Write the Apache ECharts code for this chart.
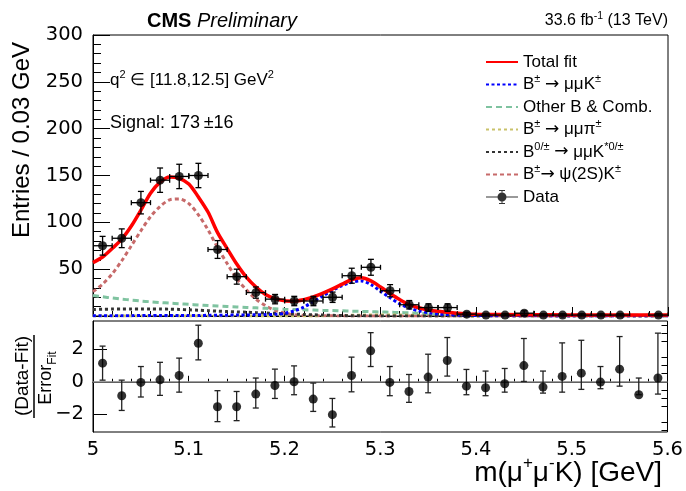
<!DOCTYPE html>
<html>
<head>
<meta charset="utf-8">
<script src="https://cdn.jsdelivr.net/npm/echarts@6/dist/echarts.min.js"></script>
<style>
html,body{margin:0;padding:0;background:#fff;}
#chart{width:686px;height:491px;}
</style>
</head>
<body>
<div id="chart"></div>
<script>
// ---------------- data ----------------
const massBins = [5.01,5.03,5.05,5.07,5.09,5.11,5.13,5.15,5.17,5.19,5.21,5.23,5.25,5.27,5.29,5.31,5.33,5.35,5.37,5.39,5.41,5.43,5.45,5.47,5.49,5.51,5.53,5.55,5.57,5.59];
const entries = [75,83,121,145,149,150,71,42,25,18,16,16,20,43,52,27,12,9,9,2,1,1,3,1,1,1,1,1,null,1];
const entriesErr = [10,10,12,13,13,13,9.5,8,6,5,5,5,5.5,8,8.5,6.5,4.5,4,4,2,1.3,1.3,2.5,1.3,1.3,1.3,1.3,1.3,null,1.3];

const pull = [1.15,-0.86,-0.04,0.12,0.39,2.38,-1.54,-1.54,-0.76,-0.23,0.0,-1.07,-2.03,0.39,1.91,-0.04,-0.6,0.29,1.31,-0.27,-0.37,-0.12,1.0,-0.33,0.33,0.53,-0.02,0.78,-0.8,0.23];
const pullErrUp = [1.05,0.96,0.98,1.08,1.07,1.11,0.99,0.94,0.99,1.01,0.98,0.99,1.0,1.13,1.12,0.98,1.05,1.41,1.42,1.03,1.03,0.94,1.67,0.99,2.07,2.03,0.96,2.01,1.03,2.77];
const pullErrDown = [1.05,0.91,0.9,0.96,1.03,1.03,0.92,0.86,0.86,0.8,0.8,0.76,0.76,1.01,0.97,0.82,0.67,0.97,0.96,0.53,0.49,0.52,0.98,0.37,0.97,1.0,0.41,1.05,0.0,0.99];

const fitMass = [5.00,5.01,5.02,5.03,5.04,5.05,5.06,5.07,5.08,5.09,5.10,5.11,5.12,5.13,5.14,5.15,5.16,5.17,5.18,5.19,5.20,5.21,5.22,5.23,5.24,5.25,5.26,5.27,5.28,5.29,5.30,5.31,5.32,5.33,5.34,5.35,5.36,5.37,5.38,5.39,5.40,5.45,5.50,5.55,5.60];
const totalFit = [57,63,72,82,96,113,131,143,148.5,147,141,127,111,89,72,55.5,41.5,31,23,18.5,16.2,15.8,17.5,20.5,24.5,29,34,39,40.8,37.5,31,24,17.5,12,8.8,6.5,5,4,3,2.3,1.8,1.3,1.2,1.2,1.2];
const sigKpm = [0.4,0.4,0.4,0.4,0.4,0.5,0.5,0.5,0.5,0.5,0.6,0.6,0.7,0.8,0.9,1.0,1.1,1.3,1.5,1.8,2.8,5.5,9.5,15.5,21.5,27.5,32.5,36,37.5,33.5,26.5,19.5,13,8.5,5.5,3.5,2.2,1.5,1.0,0.7,0.5,0.2,0.1,0.1,0.1];
const otherComb = [22,20.5,19.2,18,17,16,15.2,14.4,13.7,13,12.4,11.8,11.2,10.7,10.2,9.7,9.2,8.7,8.2,7.7,7.2,6.9,6.6,6.3,6.0,5.8,5.5,5.2,4.9,4.6,4.3,4.0,3.7,3.4,3.0,2.6,2.2,1.9,1.6,1.4,1.3,1.0,0.9,0.9,0.9];
const mumuPi = [0,0,0,0,0,0,0,0,0,0,0,0,0,0,0,0,0,0,0,0,0,0,0,0.1,0.2,0.3,0.5,0.7,0.9,1.0,1.1,1.1,1.0,0.9,0.7,0.5,0.4,0.3,0.2,0.1,0.1,0,0,0,0];
const kstar = [7,7.2,7.4,7.5,7.6,7.6,7.6,7.5,7.3,7,6.6,6.2,5.7,5.2,4.8,4.4,4,3.6,3.2,2.8,2.4,2,1.6,1.3,1,0.7,0.5,0.3,0.2,0.1,0,0,0,0,0,0,0,0,0,0,0,0,0,0,0];
const psi2S = [26,34,45,59,75,91,106,117,124,125,120,108,92,73,56,40,28,18,11,6,3,1.4,0.6,0.3,0.2,0.15,0.1,0.05,0,0,0,0,0,0,0,0,0,0,0,0,0,0,0,0,0];

const mainTicks = [0,50,100,150,200,250,300];
const pullTicks = [-2,0,2];
const pullMinorTicks = [-3,-2.5,-1.5,-1,-0.5,0.5,1,1.5,2.5,3,3.5];

const names = {
  total: 'Total fit',
  kpm: 'B± → μμK±',
  other: 'Other B & Comb.',
  pi: 'B± → μμπ±',
  kst: 'B0/± → μμK*0/±',
  psi: 'B±→ ψ(2S)K±',
  data: 'Data'
};
const legendRich = {};
legendRich[names.total] = 'Total fit';
legendRich[names.kpm] = 'B{s|±} {a|→} μμK{s|±}';
legendRich[names.other] = 'Other B & Comb.';
legendRich[names.pi] = 'B{s|±} {a|→} μμπ{s|±}';
legendRich[names.kst] = 'B{s|0/±} {a|→} μμK{s|*0/±}';
legendRich[names.psi] = 'B{s|±}{a|→} ψ(2S)K{s|±}';
legendRich[names.data] = 'Data';

// ---------------- build ----------------
const FONT = 'Liberation Sans';
const TICKFONT = 'DejaVu Sans';
const TICKSIZE = 19.5;
const zip = (xs, ys) => xs.map((x, i) => [x, ys[i]]);

const dataPts = [], dataErr = [];
massBins.forEach((m, i) => {
  if (entries[i] === null) return;
  dataPts.push([m, entries[i]]);
  dataErr.push([m, entries[i], entriesErr[i], entriesErr[i]]);
});
const pullPts = massBins.map((m, i) => [m, pull[i]]);
const pullErr = massBins.map((m, i) => [m, pull[i], pullErrDown[i], pullErrUp[i]]);

const BIN_HALF = 0.01;
function makeErrRender(halfBin, capHalf, color) {
  return function (params, api) {
    const x = api.value(0), y = api.value(1), lo = api.value(2), hi = api.value(3);
    const c = api.coord([x, y]);
    const top = api.coord([x, y + hi])[1];
    const bot = api.coord([x, y - lo])[1];
    const st = {stroke: color, lineWidth: 1.3};
    const ch = [
      {type: 'line', shape: {x1: c[0], y1: top, x2: c[0], y2: bot}, style: st},
      {type: 'line', shape: {x1: c[0] - capHalf, y1: top, x2: c[0] + capHalf, y2: top}, style: st},
      {type: 'line', shape: {x1: c[0] - capHalf, y1: bot, x2: c[0] + capHalf, y2: bot}, style: st}
    ];
    if (halfBin > 0) {
      const l = api.coord([x - halfBin, y])[0], r = api.coord([x + halfBin, y])[0];
      ch.push({type: 'line', shape: {x1: l, y1: c[1], x2: r, y2: c[1]}, style: st});
      ch.push({type: 'line', shape: {x1: l, y1: c[1] - 2.5, x2: l, y2: c[1] + 2.5}, style: st});
      ch.push({type: 'line', shape: {x1: r, y1: c[1] - 2.5, x2: r, y2: c[1] + 2.5}, style: st});
    }
    return {type: 'group', children: ch};
  };
}

function curve(name, values, color, width, dash, z) {
  return {
    name: name, type: 'line', xAxisIndex: 0, yAxisIndex: 0,
    data: zip(fitMass, values), smooth: 0.3, symbol: 'none', showSymbol: false,
    lineStyle: {color: color, width: width, type: dash},
    itemStyle: {color: color}, z: z, silent: true
  };
}

const axisBlack = {lineStyle: {color: '#000', width: 1}};
const dataIcon = 'path://M0,6.5 L32,6.5 L32,7.5 L0,7.5 Z M15.5,0 L16.5,0 L16.5,14 L15.5,14 Z M13,0 L19,0 L19,1 L13,1 Z M13,13 L19,13 L19,14 L13,14 Z M20.5,7 A4.5,4.5 0 1 1 11.5,7 A4.5,4.5 0 1 1 20.5,7 Z';
const noSymbol = {opacity: 0};

const option = {
  animation: false,
  backgroundColor: '#fff',
  textStyle: {fontFamily: FONT},
  grid: [
    {left: 93, top: 35, width: 575, height: 281, show: true, borderColor: '#000', borderWidth: 1, backgroundColor: 'transparent'},
    {left: 93, top: 321, width: 575, height: 111, show: true, borderColor: '#000', borderWidth: 1, backgroundColor: 'transparent'}
  ],
  xAxis: [
    {gridIndex: 0, type: 'value', min: 5, max: 5.6, interval: 0.1,
     axisLine: axisBlack, axisLabel: {show: false},
     axisTick: {inside: true, length: 9, lineStyle: {color: '#000'}},
     minorTick: {show: true, splitNumber: 5, length: 5, lineStyle: {color: '#000'}},
     splitLine: {show: false}},
    {gridIndex: 1, type: 'value', min: 5, max: 5.6, interval: 0.1,
     axisLine: axisBlack,
     axisLabel: {show: true, fontFamily: TICKFONT, fontSize: TICKSIZE, color: '#000', margin: 8},
     axisTick: {inside: true, length: 6, lineStyle: {color: '#000'}},
     minorTick: {show: true, splitNumber: 5, length: 3, lineStyle: {color: '#000'}},
     splitLine: {show: false}}
  ],
  yAxis: [
    {gridIndex: 0, type: 'value', min: 0, max: 300, interval: 50,
     axisLine: {show: true, lineStyle: {color: '#000'}},
     axisLabel: {fontFamily: TICKFONT, fontSize: TICKSIZE, color: '#000', margin: 10,
                 formatter: v => (v === mainTicks[0] ? '' : String(v))},
     axisTick: {inside: true, length: 17, lineStyle: {color: '#000'}},
     minorTick: {show: true, splitNumber: 5, length: 8, lineStyle: {color: '#000'}},
     splitLine: {show: false}},
    {gridIndex: 1, type: 'value', min: -3.1, max: 3.75,
     axisLine: {show: true, lineStyle: {color: '#000'}},
     axisLabel: {customValues: pullTicks, fontFamily: TICKFONT, fontSize: TICKSIZE, color: '#000', margin: 9,
                 formatter: v => (v < 0 ? '\u2212' + Math.abs(v) : String(v))},
     axisTick: {customValues: pullTicks, inside: true, length: 14, lineStyle: {color: '#000'}},
     splitLine: {show: false}},
    {gridIndex: 1, type: 'value', min: -3.1, max: 3.75,
     axisLine: {show: false}, axisLabel: {show: false},
     axisTick: {customValues: pullMinorTicks, inside: true, length: 6, lineStyle: {color: '#000'}},
     splitLine: {show: false}}
  ],
  legend: {
    orient: 'vertical', left: 485, top: 51, padding: 0, itemWidth: 32, itemHeight: 14, itemGap: 0.5,
    selectedMode: false,
    textStyle: {fontFamily: FONT, fontSize: 17, color: '#000', lineHeight: 22,
                rich: {s: {fontFamily: FONT, fontSize: 11, lineHeight: 11, verticalAlign: 'top', color: '#000'},
                       a: {fontFamily: 'DejaVu Sans', fontSize: 17, lineHeight: 22, color: '#000'}}},
    formatter: n => legendRich[n] || n,
    data: [
      {name: names.total, itemStyle: noSymbol},
      {name: names.kpm, itemStyle: noSymbol},
      {name: names.other, itemStyle: noSymbol},
      {name: names.pi, itemStyle: noSymbol},
      {name: names.kst, itemStyle: noSymbol},
      {name: names.psi, itemStyle: noSymbol},
      {name: names.data, icon: dataIcon}
    ]
  },
  graphic: [
    {type: 'text', x: 147, y: 21, style: {text: '{b|CMS} {i|Preliminary}', verticalAlign: 'middle',
      fontFamily: FONT, fontSize: 20, fill: '#000',
      rich: {b: {fontFamily: FONT, fontWeight: 'bold', fontSize: 20, fill: '#000'},
             i: {fontFamily: FONT, fontStyle: 'italic', fontSize: 20, fill: '#000'}}}},
    {type: 'text', x: 668, y: 21, style: {text: '33.6 fb{s|-1} (13 TeV)', align: 'right', verticalAlign: 'middle',
      fontFamily: FONT, fontSize: 16, lineHeight: 21, fill: '#000',
      rich: {s: {fontFamily: FONT, fontSize: 10.5, lineHeight: 10.5, verticalAlign: 'top', fill: '#000'}}}},
    {type: 'text', x: 110, y: 80, style: {text: 'q{s|2} \u2208 [11.8,12.5] GeV{s|2}', verticalAlign: 'middle',
      fontFamily: FONT, fontSize: 17, lineHeight: 22, fill: '#000',
      rich: {s: {fontFamily: FONT, fontSize: 11, lineHeight: 11, verticalAlign: 'top', fill: '#000'}}}},
    {type: 'text', x: 110, y: 123, style: {text: 'Signal: 173\u2009\u00b116', verticalAlign: 'middle',
      fontFamily: FONT, fontSize: 18, fill: '#000'}},
    {type: 'text', x: 22, y: 42, rotation: Math.PI / 2, style: {text: 'Entries / 0.03 GeV', align: 'right', verticalAlign: 'middle',
      fontFamily: FONT, fontSize: 24, fill: '#000'}},
    {type: 'text', x: 23, y: 376, rotation: Math.PI / 2, style: {text: '(Data-Fit)', align: 'center', verticalAlign: 'middle',
      fontFamily: FONT, fontSize: 19, fill: '#000'}},
    {type: 'line', shape: {x1: 34, y1: 335, x2: 34, y2: 418}, style: {stroke: '#000', lineWidth: 1.5}},
    {type: 'text', x: 46, y: 378, rotation: Math.PI / 2, style: {text: 'Error{sub|Fit}', align: 'center', verticalAlign: 'middle',
      fontFamily: FONT, fontSize: 18, lineHeight: 26, fill: '#000',
      rich: {sub: {fontFamily: FONT, fontSize: 12, lineHeight: 12, verticalAlign: 'bottom', fill: '#000'}}}},
    {type: 'text', x: 662, y: 473, style: {text: 'm(\u03bc{s|+}\u03bc{s|-}K) [GeV]', align: 'right', verticalAlign: 'middle',
      fontFamily: FONT, fontSize: 28, lineHeight: 36, fill: '#000',
      rich: {s: {fontFamily: FONT, fontSize: 17, lineHeight: 17, verticalAlign: 'top', fill: '#000'}}}}
  ],
  series: [
    curve(names.psi, psi2S, '#c76a6a', 3, [4, 3], 2),
    curve(names.other, otherComb, '#7fc3a0', 3, [6, 4], 2),
    curve(names.pi, mumuPi, '#c9c26a', 3, [3, 3], 2),
    curve(names.kst, kstar, '#333333', 3, [3, 3], 2),
    curve(names.kpm, sigKpm, '#0000ff', 3, [3, 2.5], 2),
    curve(names.total, totalFit, '#ff0000', 3.5, 'solid', 3),
    {name: 'dataErrors', type: 'custom', coordinateSystem: 'cartesian2d', xAxisIndex: 0, yAxisIndex: 0,
     data: dataErr, encode: {x: 0, y: 1}, renderItem: makeErrRender(BIN_HALF, 3, '#000'), z: 4, clip: true, silent: true},
    {name: names.data, type: 'scatter', xAxisIndex: 0, yAxisIndex: 0, data: dataPts,
     symbol: 'circle', symbolSize: 9, itemStyle: {color: '#000'}, z: 5, silent: true},
    {name: 'pullErrors', type: 'custom', coordinateSystem: 'cartesian2d', xAxisIndex: 1, yAxisIndex: 1,
     data: pullErr, encode: {x: 0, y: 1}, renderItem: makeErrRender(0, 3, '#222'), z: 4, clip: true, silent: true},
    {name: 'pulls', type: 'scatter', xAxisIndex: 1, yAxisIndex: 1, data: pullPts,
     symbol: 'circle', symbolSize: 9, itemStyle: {color: '#000'}, z: 5, silent: true,
     markLine: {silent: true, symbol: 'none', label: {show: false},
                lineStyle: {color: '#808080', width: 1.5, type: 'solid'}, data: [{yAxis: 0}], z: 3}}
  ]
};

const chart = echarts.init(document.getElementById('chart'), null, {renderer: 'canvas'});
chart.setOption(option);
</script>
</body>
</html>
